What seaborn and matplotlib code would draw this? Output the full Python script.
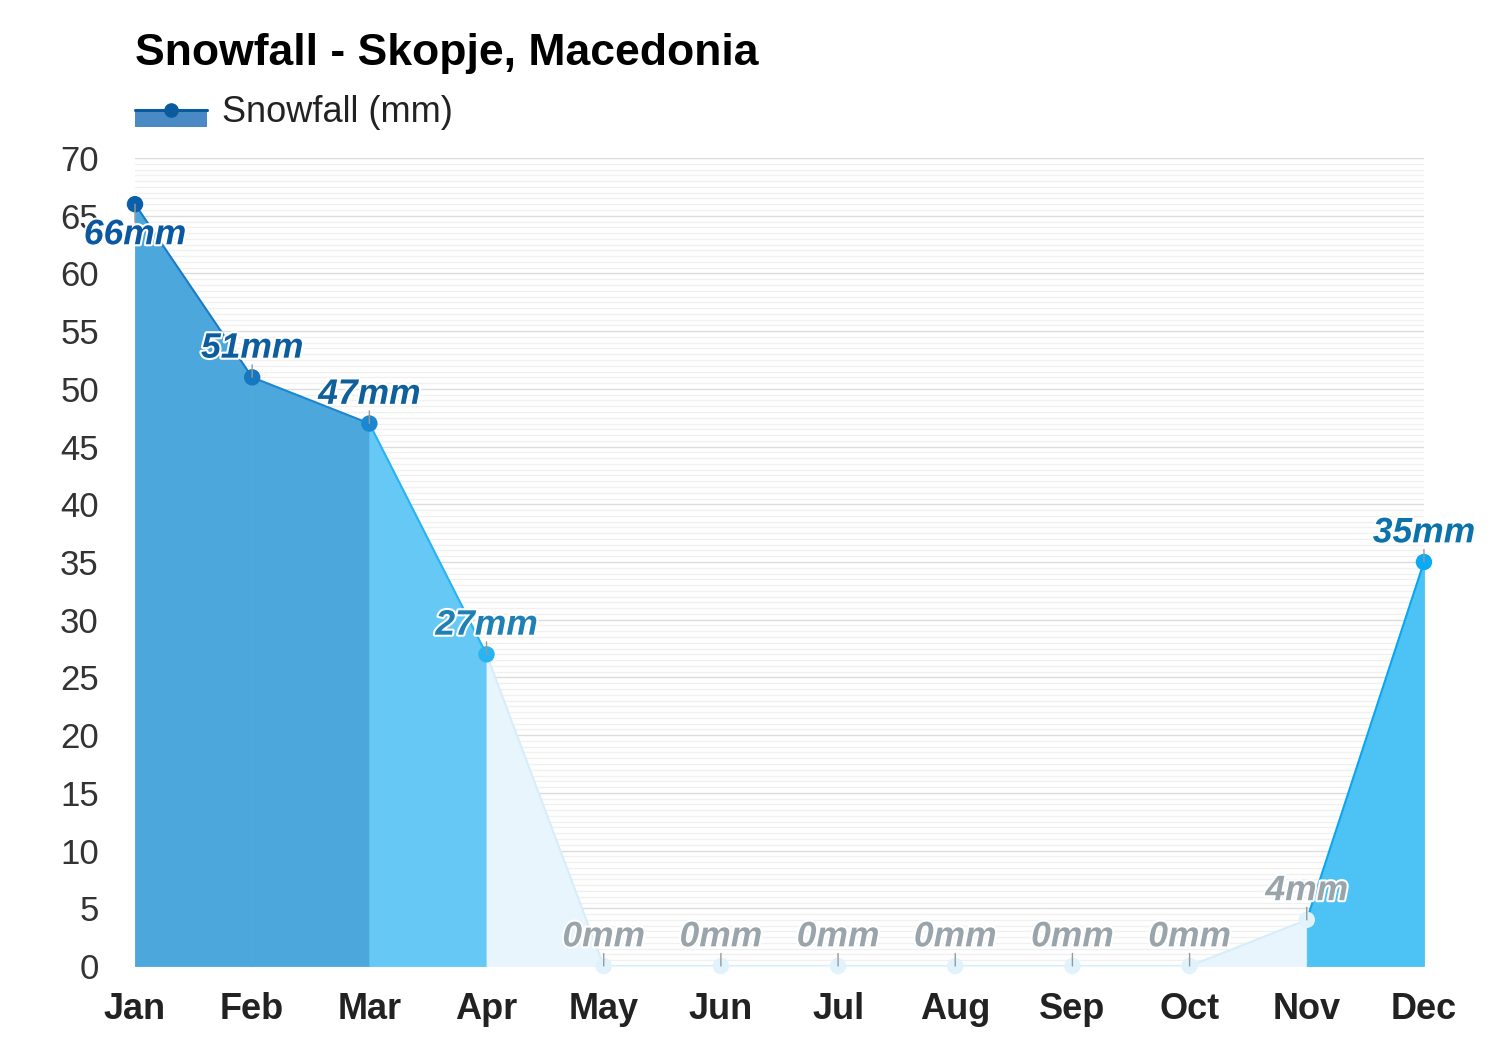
import matplotlib
matplotlib.use("Agg")
import matplotlib.pyplot as plt
import matplotlib.patheffects as pe
from matplotlib.patches import Rectangle
from matplotlib.lines import Line2D
from matplotlib.legend_handler import HandlerBase
from matplotlib.ticker import MultipleLocator
import seaborn as sns
import pandas as pd

months = ["Jan", "Feb", "Mar", "Apr", "May", "Jun", "Jul", "Aug", "Sep", "Oct", "Nov", "Dec"]
snowfall = [66, 51, 47, 27, 0, 0, 0, 0, 0, 0, 4, 35]
point_colors = ["#0b5ea8", "#1676c0", "#1a87d0", "#28b4f0", "#e0f2fb", "#e0f2fb",
                "#e0f2fb", "#e0f2fb", "#e0f2fb", "#e0f2fb", "#e0f2fb", "#0aaaf5"]
fill_colors = [None, "#4ca8dc", "#4ca8dc", "#66c8f4", "#e8f5fc", "#e8f5fc",
               "#e8f5fc", "#e8f5fc", "#e8f5fc", "#e8f5fc", "#e8f5fc", "#4cc2f5"]
line_colors = [None, "#1a7cc6", "#1a87d0", "#28b4f0", "#d6eefa", "#d6eefa",
               "#d6eefa", "#d6eefa", "#d6eefa", "#d6eefa", "#d6eefa", "#0aa6f0"]
label_colors = ["#0a58a0", "#0d5d9e", "#0e5f9a", "#1f80b5", "#9aa5ab", "#9aa5ab",
                "#9aa5ab", "#9aa5ab", "#9aa5ab", "#9aa5ab", "#9aa5ab", "#0b72ac"]

df = pd.DataFrame({"month": months, "x": range(len(months)), "snow": snowfall})

sns.set_theme(style="white")
plt.rcParams["font.family"] = ["Liberation Sans", "DejaVu Sans"]

fig = plt.figure(figsize=(15, 10.5), dpi=100, facecolor="white")
ax = fig.add_axes([0.09, 0.08, 0.8593, 0.7695])
ax.set_facecolor("white")

ax.set_xlim(0, 11)
ax.set_ylim(0, 70)
ax.yaxis.set_major_locator(MultipleLocator(5))
ax.yaxis.set_minor_locator(MultipleLocator(0.5))
ax.grid(axis="y", which="major", color="#dcdcdc", linewidth=1.0, zorder=0)
ax.grid(axis="y", which="minor", color="#f0f0f0", linewidth=1.0, zorder=0)
ax.grid(axis="x", visible=False)
ax.set_axisbelow(True)

ax.axhline(0, color="#555555", linewidth=1.2, zorder=1)

xs = df["x"].tolist()
for i in range(1, len(xs)):
    ax.fill_between([xs[i - 1], xs[i]], [snowfall[i - 1], snowfall[i]], 0,
                    facecolor=fill_colors[i], edgecolor=fill_colors[i],
                    linewidth=0.6, zorder=2)
    ax.plot([xs[i - 1], xs[i]], [snowfall[i - 1], snowfall[i]],
            color=line_colors[i], linewidth=1.5, zorder=3, solid_capstyle="butt")

sns.scatterplot(data=df, x="x", y="snow", hue="month", palette=point_colors,
                s=140, edgecolor="none", legend=False, ax=ax, zorder=5)
for c in ax.collections:
    c.set_clip_on(False)

for i, (x, v) in enumerate(zip(xs, snowfall)):
    dy = -22 if i == 0 else 21
    ax.annotate("", xy=(x, v), xytext=(0, 9 if i else -13), textcoords="offset points",
                arrowprops=dict(arrowstyle="-", color="#999999", lw=1,
                                shrinkA=0, shrinkB=0), zorder=6, annotation_clip=False)
    ax.annotate(f"{v}mm", (x, v), xytext=(0, dy), textcoords="offset points",
                ha="center", va="center", fontsize=25.5, fontweight="bold",
                fontstyle="italic", color=label_colors[i], zorder=7,
                path_effects=[pe.withStroke(linewidth=3, foreground="white")],
                annotation_clip=False)

for s in ["top", "right", "left", "bottom"]:
    ax.spines[s].set_visible(False)

ax.set_xticks(xs)
ax.set_xticklabels(months, fontsize=26, fontweight="bold", color="#222222")
ax.tick_params(axis="x", length=0, pad=19)
ax.set_yticks(range(0, 71, 5))
ax.set_yticklabels([str(t) for t in range(0, 71, 5)], fontsize=25, color="#333333")
ax.tick_params(axis="y", which="both", length=0, pad=26)
ax.set_xlabel("")
ax.set_ylabel("")

fig.text(135 / 1500, 1 - 49 / 1050, "Snowfall - Skopje, Macedonia", fontsize=32,
         fontweight="bold", color="black", ha="left", va="center_baseline")


class SnowHandler(HandlerBase):
    def create_artists(self, legend, orig, xdescent, ydescent, width, height,
                       fontsize, trans):
        yc = -ydescent + height / 2
        rect = Rectangle((-xdescent, yc - 12.5), width, 12.5, facecolor="#4a8ac4",
                         edgecolor="none", transform=trans)
        line = Line2D([-xdescent, -xdescent + width], [yc, yc], color="#0a5aa0",
                      linewidth=2.2, transform=trans)
        dot = Line2D([-xdescent + width / 2], [yc], marker="o", markersize=9.5,
                     color="#0a5aa0", linestyle="none", transform=trans)
        return [rect, line, dot]


fig.legend([object()], ["Snowfall (mm)"], handler_map={object: SnowHandler()},
           loc="center left", bbox_to_anchor=(135 / 1500, 1 - 113 / 1050), frameon=False,
           fontsize=26, handlelength=2.0, handleheight=0.8, handletextpad=0.42,
           borderpad=0, borderaxespad=0, labelcolor="#222222")

fig.savefig("out.png", dpi=100, facecolor="white")
